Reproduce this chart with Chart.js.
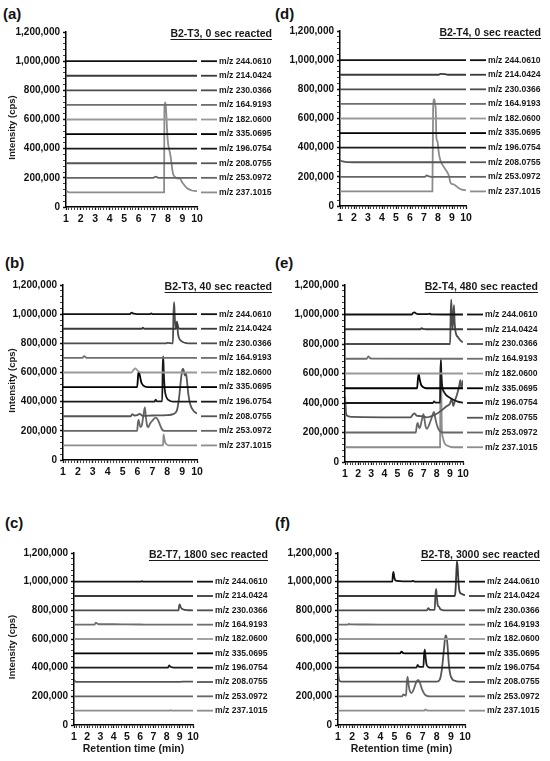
<!DOCTYPE html>
<html>
<head>
<meta charset="utf-8">
<script src="https://cdn.jsdelivr.net/npm/chart.js@4.4.1/dist/chart.umd.min.js"></script>
<style>
  html, body { margin: 0; padding: 0; background: #fff; }
  #page { position: relative; width: 550px; height: 761px; overflow: hidden; font-family: "Liberation Sans", Arial, sans-serif; }
  .panel { position: absolute; }
  .tag { position: absolute; font-weight: bold; font-size: 15px; color: #111; line-height: 18px; }
</style>
</head>
<body>
<div id="page"></div>
<script>
"use strict";

// m/z traces, top to bottom in every panel
const masses = ["244.0610", "214.0424", "230.0366", "164.9193", "182.0600",
                "335.0695", "196.0754", "208.0755", "253.0972", "237.1015"];
// stacked baseline of each trace (cps)
const offsets = [1000000, 900000, 800000, 700000, 600000, 500000, 400000, 300000, 200000, 100000];

const panelTags = ["(a)", "(b)", "(c)", "(d)", "(e)", "(f)"];
const panelTitles = ["B2-T3, 0 sec reacted", "B2-T3, 40 sec reacted", "B2-T7, 1800 sec reacted",
                     "B2-T4, 0 sec reacted", "B2-T4, 480 sec reacted", "B2-T8, 3000 sec reacted"];

const yTickStep = 200000;
const yMax = 1200000;
const xMin = 1;
const xMax = 10;

// [retention time (min), intensity above baseline (cps)]
const flat = [[1, 0], [10, 0]];

const tracesA = [
  flat, flat, flat, flat, flat, flat, flat, flat,
  [[1, 0], [7.0, 0], [7.15, 8000], [7.3, 2000], [7.5, 0], [10, 0]],
  [[1, 12000], [1.2, 1000], [1.5, 0], [7.74, 0], [7.76, 580000], [7.82, 617000], [7.86, 590000],
   [7.9, 520000], [7.96, 400000], [8.02, 330000], [8.1, 290000], [8.18, 250000], [8.26, 190000],
   [8.35, 130000], [8.5, 105000], [8.7, 95000], [8.82, 100000], [8.92, 80000], [9.05, 60000],
   [9.3, 30000], [9.6, 15000], [10, 8000]]
];

const tracesB = [
  [[1, 0], [5.5, 0], [5.6, 11000], [5.75, 3000], [6.0, 0], [6.85, 0], [6.92, 6000], [7.0, 0], [10, 0]],
  [[1, 0], [6.3, 0], [6.37, 7000], [6.45, 0], [8.6, 0], [8.66, 40000], [8.74, 8000], [8.85, 0], [10, 0]],
  [[1, 0], [7.9, 0], [8.0, 3000], [8.38, 0], [8.42, 200000], [8.46, 282000], [8.5, 200000],
   [8.55, 110000], [8.6, 120000], [8.66, 150000], [8.72, 70000], [8.8, 35000], [8.95, 15000],
   [9.2, 3000], [9.4, 0], [10, 0]],
  [[1, 0], [2.3, 0], [2.42, 12000], [2.55, 2000], [2.7, 0], [10, 0]],
  [[1, 0], [5.6, 0], [5.75, 20000], [5.85, 28000], [5.95, 20000], [6.1, 5000], [6.3, 0], [10, 0]],
  [[1, 0], [5.98, 0], [6.05, 85000], [6.1, 105000], [6.16, 80000], [6.25, 35000], [6.4, 10000], [6.7, 0], [10, 0]],
  [[1, 0], [7.15, 0], [7.22, 14000], [7.3, 3000], [7.66, 2000], [7.7, 250000], [7.73, 310000],
   [7.77, 200000], [7.83, 90000], [7.9, 45000], [8.0, 20000], [8.2, 5000], [8.4, 0], [10, 0]],
  [[1, 0], [5.55, 0], [5.65, 15000], [5.8, 5000], [6.0, 8000], [6.15, 16000], [6.3, 5000], [6.5, 3000],
   [7.0, 5000], [8.0, 8000], [8.4, 15000], [8.65, 40000], [8.8, 130000], [8.92, 250000], [9.02, 320000],
   [9.08, 325000], [9.18, 280000], [9.26, 295000], [9.32, 250000], [9.42, 150000], [9.55, 80000],
   [9.75, 40000], [10, 18000]],
  [[1, 0], [5.98, 0], [6.03, 55000], [6.08, 75000], [6.14, 45000], [6.2, 25000], [6.3, 40000],
   [6.42, 120000], [6.5, 160000], [6.56, 100000], [6.65, 35000], [6.72, 25000], [6.85, 50000],
   [7.05, 75000], [7.22, 90000], [7.35, 80000], [7.5, 45000], [7.65, 10000], [7.8, 0], [10, 0]],
  [[1, 0], [7.72, 0], [7.75, 75000], [7.79, 60000], [7.85, 25000], [7.95, 8000], [8.1, 0], [10, 0]]
];

const tracesC = [
  [[1, 0], [6.05, 0], [6.15, 4000], [6.25, 0], [10, 0]],
  flat,
  [[1, 0], [8.9, 0], [8.95, 30000], [9.0, 42000], [9.06, 25000], [9.15, 12000], [9.3, 5000], [9.5, 2000], [10, 0]],
  [[1, 0], [2.55, 0], [2.65, 14000], [2.75, 8000], [2.9, 3000], [4, 3000], [5, 2000], [6, 1000], [7, 0], [10, 0]],
  flat,
  flat,
  [[1, 0], [8.1, 0], [8.2, 15000], [8.3, 6000], [8.45, 2000], [8.6, 0], [10, 0]],
  [[1, 15000], [1.1, 3000], [1.3, 1000], [9.0, 1000], [9.5, 3000], [10, 3000]],
  flat,
  [[1, 0], [8.2, 0], [8.3, 4000], [8.4, 0], [10, 0]]
];

const tracesD = [
  flat,
  [[1, 0], [8.0, 0], [8.2, 6000], [8.5, 5000], [8.7, 0], [10, 0]],
  flat, flat, flat, flat, flat,
  [[1, 13000], [1.2, 6000], [1.5, 1000], [2, 0], [10, 0]],
  [[1, 0], [7.05, 0], [7.2, 9000], [7.35, 3000], [7.5, 0], [10, 0]],
  [[1, 0], [7.6, 0], [7.65, 560000], [7.72, 632000], [7.78, 610000], [7.84, 557000], [7.88, 380000],
   [7.92, 350000], [7.97, 340000], [8.05, 270000], [8.15, 220000], [8.27, 190000], [8.5, 156000],
   [8.7, 125000], [8.8, 100000], [8.87, 65000], [9.0, 50000], [9.1, 49000], [9.25, 40000],
   [9.45, 25000], [9.7, 12000], [10, 8000]]
];

const tracesE = [
  [[1, 0], [6.1, 0], [6.2, 12000], [6.3, 14000], [6.45, 5000], [6.7, 2000], [7.3, 2000], [7.45, 5000], [7.6, 1000], [9.0, 0], [10, 0]],
  [[1, 0], [6.75, 0], [6.85, 8000], [6.95, 2000], [7.2, 0], [10, 0]],
  [[1, 0], [9.02, 0], [9.06, 200000], [9.1, 300000], [9.15, 200000], [9.2, 100000], [9.26, 180000],
   [9.31, 263000], [9.36, 150000], [9.42, 90000], [9.5, 60000], [9.63, 45000], [9.8, 25000], [10, 12000]],
  [[1, 0], [2.65, 0], [2.78, 16000], [2.9, 4000], [3.1, 1000], [10, 0]],
  flat,
  [[1, 0], [6.5, 0], [6.56, 60000], [6.62, 95000], [6.7, 60000], [6.8, 25000], [6.95, 8000], [7.2, 0], [10, 0]],
  [[1, 0], [7.7, 0], [7.8, 11000], [7.9, 3000], [8.25, 3000], [8.28, 200000], [8.31, 290000],
   [8.35, 200000], [8.42, 110000], [8.55, 75000], [8.7, 55000], [9.0, 35000], [9.3, 20000], [9.6, 10000], [10, 2000]],
  [[1, 142000], [1.04, 90000], [1.08, 30000], [1.2, 12000], [1.5, 6000], [6.0, 3000], [6.2, 25000],
   [6.3, 30000], [6.45, 15000], [6.6, 12000], [7.0, 10000], [7.2, 2000], [7.5, 8000], [7.85, 20000],
   [8.3, 45000], [8.7, 75000], [9.0, 95000], [9.15, 130000], [9.25, 80000], [9.4, 120000],
   [9.55, 160000], [9.7, 210000], [9.8, 255000], [9.88, 200000], [10, 255000]],
  [[1, 0], [6.4, 0], [6.48, 50000], [6.55, 65000], [6.62, 40000], [6.7, 30000], [6.85, 80000],
   [6.98, 125000], [7.05, 95000], [7.15, 40000], [7.25, 25000], [7.45, 60000], [7.65, 110000],
   [7.78, 140000], [7.88, 100000], [8.0, 55000], [8.15, 20000], [8.3, 5000], [8.5, 0], [10, 0]],
  [[1, 0], [8.25, 0], [8.28, 450000], [8.31, 600000], [8.34, 450000], [8.38, 140000], [8.45, 70000],
   [8.6, 26000], [8.87, 8000], [9.2, 0], [10, 0]]
];

const tracesF = [
  [[1, 0], [4.85, 0], [4.89, 50000], [4.93, 68000], [4.98, 35000], [5.05, 12000], [5.2, 5000],
   [5.6, 2000], [6.2, 2000], [6.33, 5000], [6.45, 0], [10, 0]],
  [[1, 0], [9.28, 0], [9.33, 40000], [9.38, 150000], [9.43, 244000], [9.48, 200000], [9.55, 80000],
   [9.62, 30000], [9.75, 15000], [10, 6000]],
  [[1, 0], [7.3, 0], [7.4, 16000], [7.5, 3000], [7.85, 3000], [7.9, 100000], [7.95, 150000],
   [8.0, 100000], [8.06, 40000], [8.1, 30000], [8.16, 25000], [8.25, 8000], [8.4, 2000], [8.6, 0], [10, 0]],
  [[1, 0], [1.7, 0], [1.76, 5000], [1.85, 2000], [3, 1000], [5, 0], [10, 0]],
  flat,
  [[1, 0], [5.4, 0], [5.5, 12000], [5.62, 2000], [5.8, 0], [10, 0]],
  [[1, 0], [6.55, 0], [6.65, 20000], [6.75, 5000], [7.05, 5000], [7.1, 90000], [7.15, 125000],
   [7.2, 80000], [7.27, 25000], [7.4, 5000], [7.6, 0], [10, 0]],
  [[1, 80000], [1.06, 20000], [1.15, 5000], [1.4, 2000], [8.0, 3000], [8.2, 15000], [8.35, 80000],
   [8.5, 220000], [8.6, 315000], [8.66, 325000], [8.75, 270000], [8.85, 130000], [8.95, 55000],
   [9.1, 20000], [9.3, 8000], [9.6, 3000], [10, 2000]],
  [[1, 0], [5.55, 0], [5.62, 14000], [5.7, 10000], [5.82, 5000], [5.88, 100000], [5.93, 135000],
   [5.99, 90000], [6.08, 40000], [6.2, 22000], [6.35, 45000], [6.55, 100000], [6.68, 115000],
   [6.8, 95000], [6.95, 50000], [7.1, 20000], [7.3, 3000], [7.5, 0], [10, 0]],
  [[1, 0], [7.1, 0], [7.2, 8000], [7.3, 2000], [7.5, 0], [10, 0]]
];

const panelTraces = [tracesA, tracesB, tracesC, tracesD, tracesE, tracesF];

// line colour of each m/z trace
const lineColors = ["#111111", "#3a3a3a", "#4d4d4d", "#6e6e6e", "#999999",
                    "#000000", "#1a1a1a", "#555555", "#666666", "#8c8c8c"];

// canvas box (x, y, w, h) and plot rectangle (L, R, T, B) in page pixels
const layout = [
  { x: 0, y: 0, w: 275, h: 230, L: 66, R: 197, T: 32, B: 207, tag: [3, 5], yTitle: true, xTitle: false },
  { x: 0, y: 230, w: 275, h: 260, L: 63, R: 197, T: 285, B: 460, tag: [5, 254], yTitle: true, xTitle: false },
  { x: 0, y: 490, w: 275, h: 271, L: 74, R: 193, T: 553, B: 725, tag: [5, 514], yTitle: true, xTitle: true },
  { x: 275, y: 0, w: 275, h: 230, L: 340, R: 466, T: 31, B: 206, tag: [275, 5], yTitle: false, xTitle: false },
  { x: 275, y: 230, w: 275, h: 260, L: 345, R: 463, T: 285, B: 462, tag: [275, 254], yTitle: false, xTitle: false },
  { x: 275, y: 490, w: 275, h: 271, L: 338, R: 465, T: 553, B: 725, tag: [275, 514], yTitle: false, xTitle: true }
];

const FONT = '"Liberation Sans", Arial, sans-serif';

// legend labels beside each baseline, panel title and y title
const panelDecor = {
  id: "panelDecor",
  afterDraw(chart, args, opts) {
    const { ctx, chartArea, scales } = chart;
    ctx.save();
    ctx.textBaseline = "middle";
    ctx.font = "bold 8.6px " + FONT;
    for (let i = 0; i < masses.length; i++) {
      const y = scales.y.getPixelForValue(offsets[i]);
      ctx.strokeStyle = lineColors[i];
      ctx.lineWidth = 1.8;
      ctx.beginPath();
      ctx.moveTo(chartArea.right + 4, y);
      ctx.lineTo(chartArea.right + 20, y);
      ctx.stroke();
      ctx.fillStyle = "#1a1a1a";
      ctx.textAlign = "left";
      ctx.fillText("m/z " + masses[i], chartArea.right + 22, y);
    }

    // title, underlined, right aligned over the legend
    ctx.font = "bold 10.5px " + FONT;
    ctx.textAlign = "right";
    ctx.fillStyle = "#1a1a1a";
    const tx = chartArea.right + 75;
    const ty = chartArea.top + 2;
    ctx.fillText(opts.title, tx, ty);
    const tw = ctx.measureText(opts.title).width;
    ctx.strokeStyle = "#1a1a1a";
    ctx.lineWidth = 1;
    ctx.beginPath();
    ctx.moveTo(tx - tw, ty + 5.5);
    ctx.lineTo(tx, ty + 5.5);
    ctx.stroke();

    if (opts.yTitle) {
      ctx.translate(12, (chartArea.top + chartArea.bottom) / 2 + 8);
      ctx.rotate(-Math.PI / 2);
      ctx.textAlign = "center";
      ctx.font = "bold 9.5px " + FONT;
      ctx.fillText("Intensity (cps)", 0, 0);
    }
    ctx.restore();
  }
};

function isMajor(v, step) {
  return Math.abs(v / step - Math.round(v / step)) < 1e-6;
}

const page = document.getElementById("page");

layout.forEach((box, p) => {
  const tag = document.createElement("div");
  tag.className = "tag";
  tag.style.left = box.tag[0] + "px";
  tag.style.top = box.tag[1] + "px";
  tag.textContent = panelTags[p];
  page.appendChild(tag);

  const holder = document.createElement("div");
  holder.className = "panel";
  holder.style.left = box.x + "px";
  holder.style.top = box.y + "px";
  holder.style.width = box.w + "px";
  holder.style.height = box.h + "px";
  const canvas = document.createElement("canvas");
  holder.appendChild(canvas);
  page.appendChild(holder);

  const yAxisWidth = box.L - box.x;
  const xAxisHeight = box.y + box.h - box.B;

  const datasets = panelTraces[p].map((trace, i) => ({
    label: "m/z " + masses[i],
    data: trace.map(pt => ({ x: pt[0], y: pt[1] + offsets[i] })),
    borderColor: lineColors[i],
    borderWidth: 1.8,
    pointRadius: 0,
    fill: false,
    cubicInterpolationMode: "monotone"
  }));

  new Chart(canvas, {
    type: "line",
    data: { datasets: datasets },
    options: {
      responsive: true,
      maintainAspectRatio: false,
      animation: false,
      events: [],
      layout: {
        autoPadding: false,
        padding: { left: 0, top: box.T - box.y, right: box.x + box.w - box.R, bottom: 0 }
      },
      plugins: {
        legend: { display: false },
        tooltip: { enabled: false },
        panelDecor: { title: panelTitles[p], yTitle: box.yTitle }
      },
      scales: {
        x: {
          type: "linear",
          min: xMin,
          max: xMax,
          afterFit(scale) { scale.height = xAxisHeight; },
          border: { color: "#000", width: 1.5 },
          grid: {
            drawOnChartArea: false,
            drawTicks: true,
            tickLength: 3,
            tickColor: "#111",
            tickWidth: c => (c.tick && isMajor(c.tick.value, 1) ? 1.3 : 0.8)
          },
          ticks: {
            stepSize: 0.2,
            maxTicksLimit: 1000,
            autoSkip: false,
            maxRotation: 0,
            padding: 3,
            color: "#111",
            font: { family: FONT, size: 10.5, weight: "bold" },
            callback: v => (isMajor(v, 1) ? String(Math.round(v)) : "")
          },
          title: {
            display: box.xTitle,
            text: "Retention time (min)",
            color: "#1a1a1a",
            font: { family: FONT, size: 10.5, weight: "bold" },
            padding: { top: 0, bottom: 6 }
          }
        },
        y: {
          min: 0,
          max: yMax,
          afterFit(scale) { scale.width = yAxisWidth; },
          border: { color: "#000", width: 1.5 },
          grid: {
            drawOnChartArea: false,
            drawTicks: true,
            tickLength: 3,
            tickColor: "#111",
            tickWidth: c => (c.tick && isMajor(c.tick.value, yTickStep) ? 1.3 : 0.8)
          },
          ticks: {
            stepSize: 40000,
            maxTicksLimit: 1000,
            autoSkip: false,
            padding: 3,
            color: "#111",
            font: { family: FONT, size: 10, weight: "bold" },
            callback: v => (isMajor(v, yTickStep) ? v.toLocaleString("en-US") : "")
          }
        }
      }
    },
    plugins: [panelDecor]
  });
});
</script>
</body>
</html>
